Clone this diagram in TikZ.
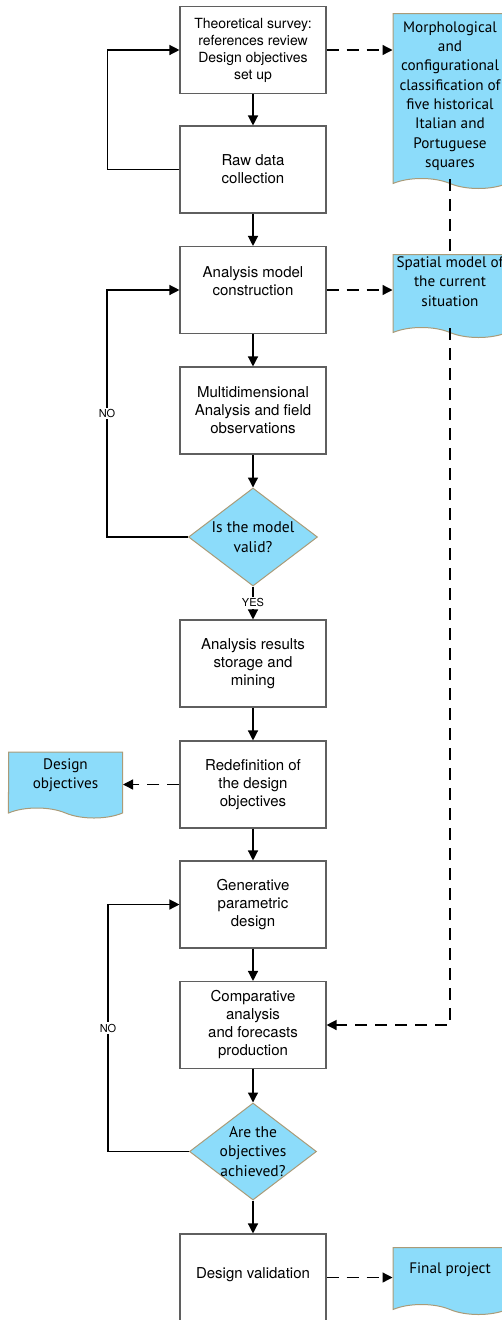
\documentclass[tikz,border=0pt]{standalone}
\usepackage{fontspec}
\setmainfont{TeX Gyre Heros}
\newfontfamily\gillfont{PT Sans}
\usetikzlibrary{arrows.meta, shapes.geometric, shapes.symbols}
\definecolor{docblue}{RGB}{140,220,250}
\definecolor{docedge}{RGB}{170,155,120}
\definecolor{boxedge}{RGB}{95,95,95}

\begin{document}
\begin{tikzpicture}[x=1pt, y=-1pt,
  box/.style={draw=boxedge, line width=1.1pt, fill=white, minimum width=146pt, minimum height=87pt,
    align=center, inner sep=0pt, font=\fontsize{15}{18}\selectfont},
  doc/.style={shape=tape, tape bend top=none, tape bend bottom=out and in, tape bend height=10pt,
    draw=docedge, fill=docblue, line width=1pt, minimum width=114pt, align=center, inner sep=2pt,
    font=\gillfont\fontsize{15.2}{19.3}\selectfont},
  test/.style={diamond, draw=docedge, fill=docblue, line width=1pt, minimum width=129pt, minimum height=98pt,
    inner sep=-6pt, align=center, font=\gillfont\fontsize{15.5}{19.5}\selectfont},
  line/.style={draw=black, line width=1.3pt, -{Triangle[length=10pt,width=10pt]}},
  link/.style={line, dash pattern=on 12pt off 8pt},
  tag/.style={fill=white, inner sep=1.5pt, font=\fontsize{11}{11}\selectfont}]
  \useasboundingbox (0,0) rectangle (502,1320);
  \clip (0,0) rectangle (502,1320);

  % main column
  \node[box, font=\fontsize{14}{17}\selectfont] (survey) at (253,50) {Theoretical survey:\\ references review\\ Design objectives\\ set up};
  \node[box] (rawdata) at (253,169.5) {Raw data\\ collection};
  \node[box] (model) at (253,290) {Analysis model\\ construction\\[0pt]};
  \node[box] (multidim) at (253,410.5) {Multidimensional\\ Analysis and field\\ observations};
  \node[test] (valid) at (253,537) {Is the model\\ valid?};
  \node[box] (results) at (253,663.5) {Analysis results\\ storage and\\ mining};
  \node[box] (redef) at (253,784.5) {Redefinition of\\ the design\\ objectives};
  \node[box] (generative) at (253,904.5) {Generative\\ parametric\\ design};
  \node[box] (compare) at (253,1025) {Comparative\\ analysis\\ and forecasts\\ production};
  \node[test, minimum width=127pt, minimum height=97pt] (achieved) at (253,1151.5) {Are the\\ objectives\\ achieved?};
  \node[box] (validation) at (253,1277.5) {Design validation\\[-10pt]};

  % documents
  \node[doc, minimum height=175pt] (morpho) at (450,96) {Morphological\\ and\\ configurational\\ classification of\\ five historical\\ Italian and\\ Portuguese\\ squares};
  \node[doc, minimum height=83pt] (spatial) at (450,291) {Spatial model of\\ the current\\ situation\\[0pt]};
  \node[doc, minimum height=66pt] (objectives) at (65.5,780) {Design\\ objectives\\[-7pt]};
  \node[doc, minimum height=67pt] (final) at (450,1276) {Final project\\[-3pt]};

  % flow
  \draw[line] (survey) -- (rawdata);
  \draw[line] (rawdata) -- (model);
  \draw[line] (model) -- (multidim);
  \draw[line] (multidim) -- (valid);
  \draw[line] (valid) -- node[tag] {YES} (results);
  \draw[line] (results) -- (redef);
  \draw[line] (redef) -- (generative);
  \draw[line] (generative) -- (compare);
  \draw[line] (compare) -- (achieved);
  \draw[line] (achieved) -- (validation);

  % loops back
  \draw[line] (rawdata.west) -- ++(-72,0) |- (survey.west);
  \draw[line] (valid.west) -- ++(-81,0) |- node[tag, pos=0.25] {NO} (model.west);
  \draw[line] (achieved.west) -- ++(-81,0) |- node[tag, pos=0.25] {NO} (generative.west);

  % outputs
  \draw[link] (survey.east) -- (survey.east -| morpho.west);
  \draw[link] (model.east) -- (model.east -| spatial.west);
  \draw[link] (redef.west) -- (redef.west -| objectives.east);
  \draw[link] (validation.east) -- (validation.east -| final.west);
  \draw[link, -] (morpho.south) -- (spatial.north);
  \draw[link] (spatial.south) |- (compare.east);
\end{tikzpicture}
\end{document}
